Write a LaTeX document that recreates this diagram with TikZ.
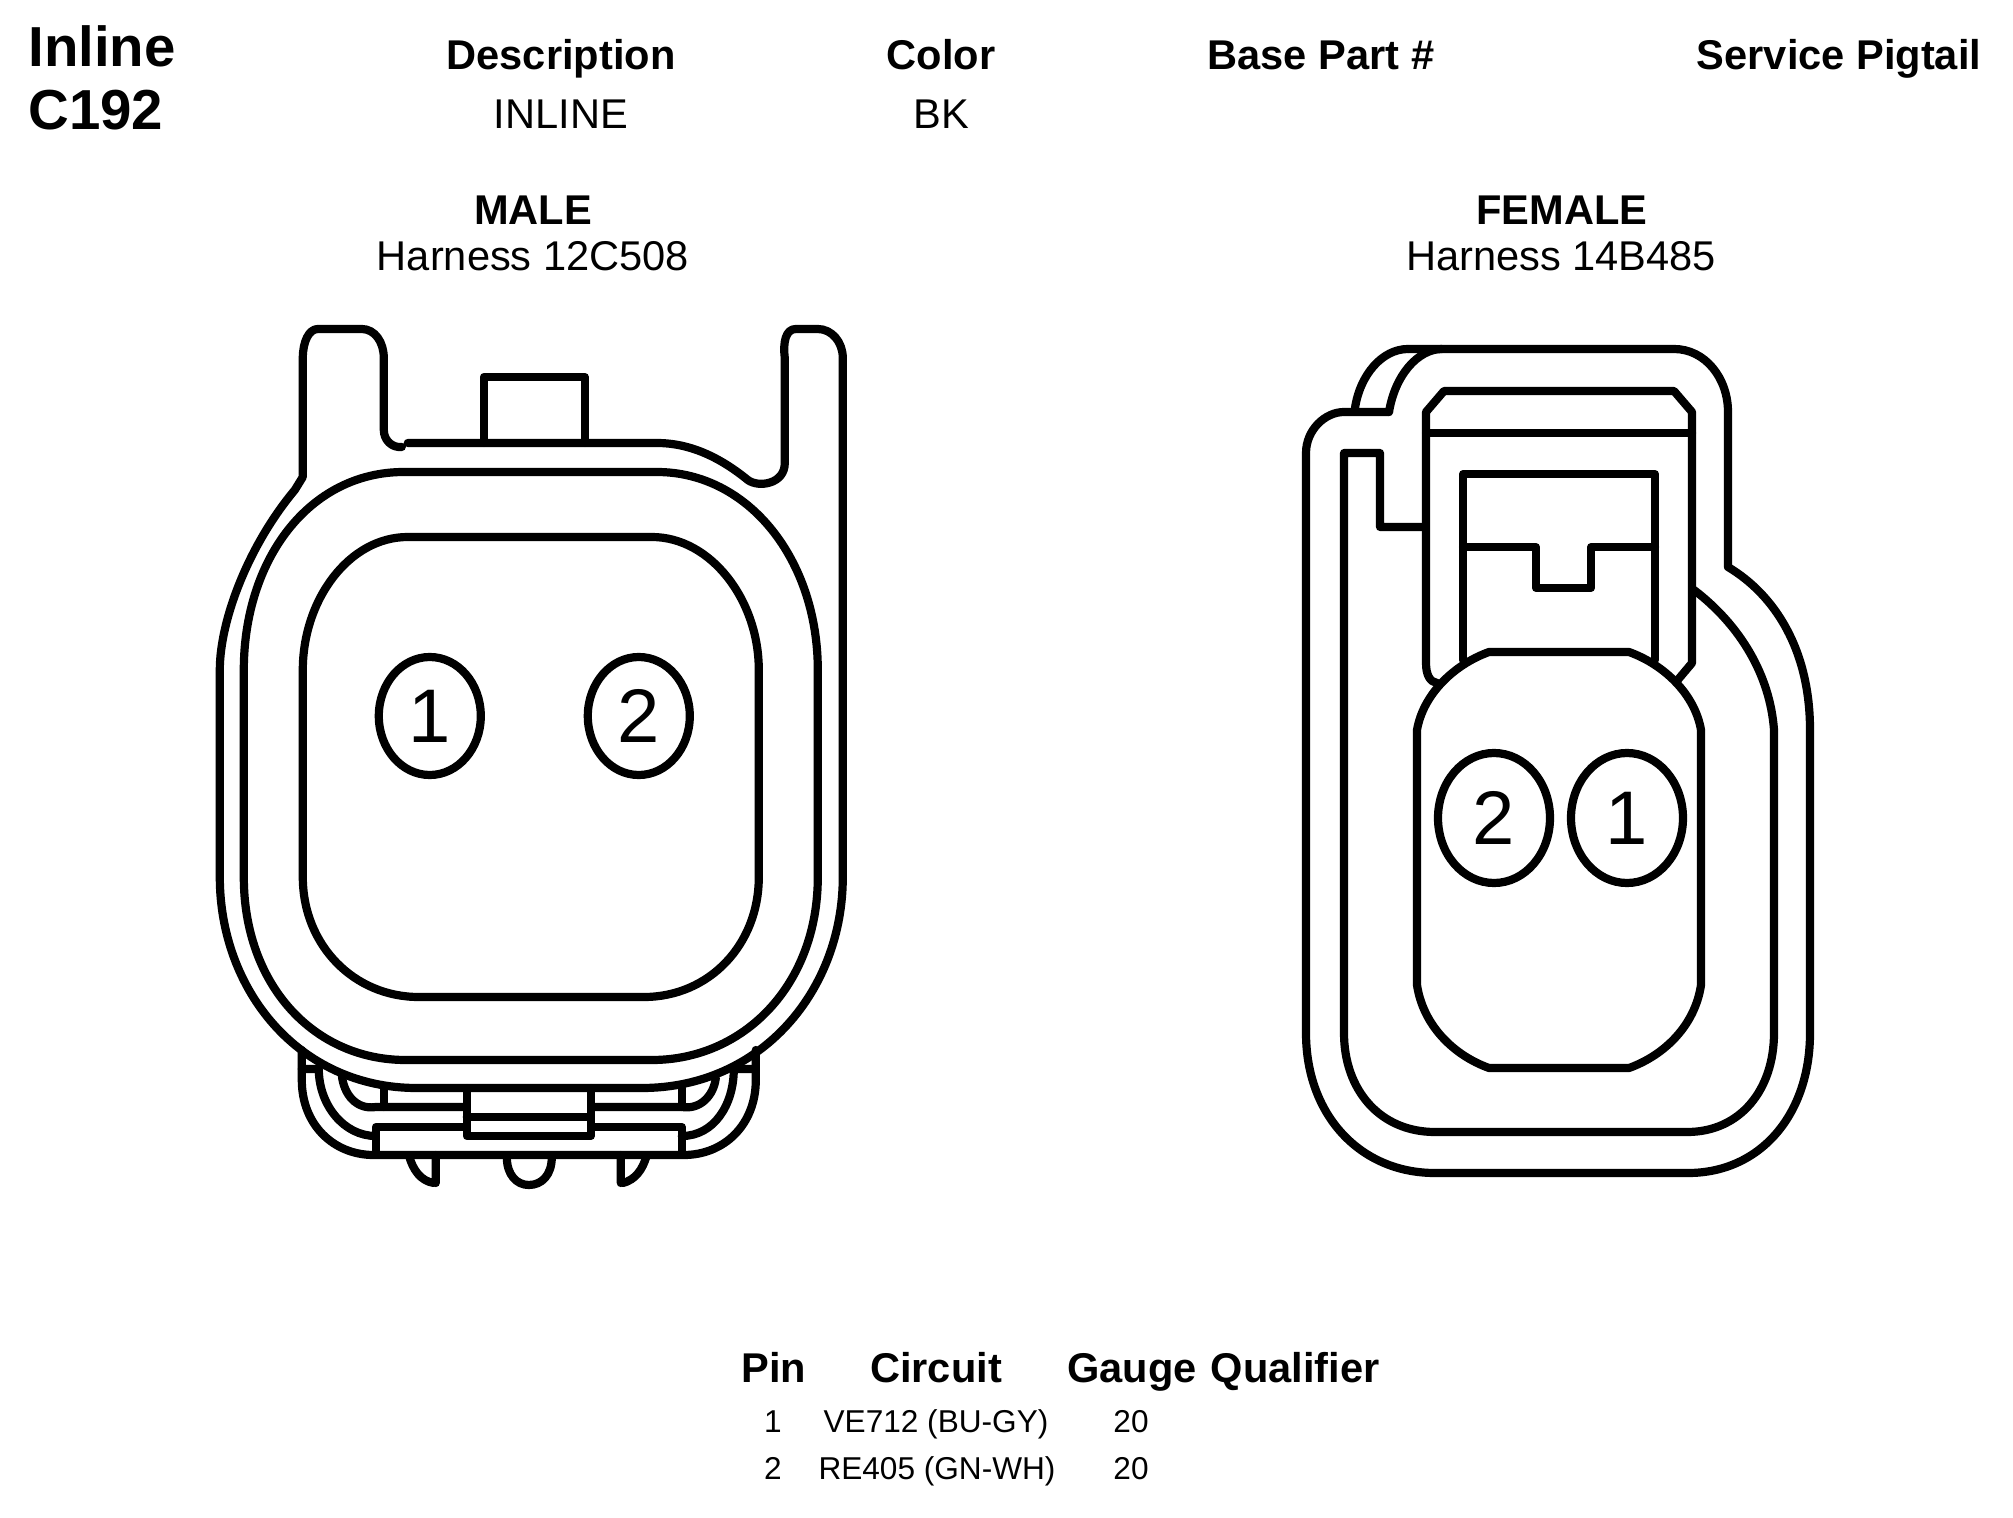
\documentclass[tikz,border=0pt]{standalone}
\usepackage{fontspec}
\setmainfont{Liberation Sans}
\usetikzlibrary{shapes.geometric}
\def\dline{\draw[outline]}
\tikzset{
    outline/.style={line width=4.1pt,line join=round,line cap=round},
    headbig/.style={anchor=base west,inner sep=0pt,font=\fontsize{28.2}{28}\selectfont\bfseries},
    headlabel/.style={anchor=base,inner sep=0pt,font=\fontsize{20.8}{21}\selectfont\bfseries},
    textlabel/.style={anchor=base,inner sep=0pt,font=\fontsize{20.8}{21}\selectfont},
    rowlabel/.style={anchor=base,inner sep=0pt,font=\fontsize{15.8}{16}\selectfont},
    pinmark/.style={ellipse,draw,line width=4.1pt,inner sep=0pt,font=\fontsize{38}{38}\selectfont},
    malepin/.style={pinmark,minimum width=51pt,minimum height=59pt},
    femalepin/.style={pinmark,minimum width=56pt,minimum height=65pt}
}
\begin{document}
\begin{tikzpicture}[x=0.5pt,y=-0.5pt]
    \useasboundingbox (0,0) rectangle (2013,1518);

    \node[headbig] (inline) at (28,67) {Inline};
    \node[headbig] (cnum) at (28,130) {C192};
    \node[headlabel] (desc) at (561,70) {Description};
    \node[headlabel] (color) at (941,70) {Color};
    \node[headlabel] (base) at (1321,70) {Base Part \#};
    \node[headlabel] (pigtail) at (1839,70) {Service Pigtail};
    \node[textlabel] (descval) at (561,129) {INLINE};
    \node[textlabel] (colorval) at (941,129) {BK};
    \node[headlabel] (male) at (533,225) {MALE};
    \node[textlabel] (maleh) at (533,271) {Harness 12C508};
    \node[headlabel] (female) at (1562,225) {FEMALE};
    \node[textlabel] (femaleh) at (1561,271) {Harness 14B485};

    \begin{scope}[xshift=-0.6pt]
    \dline (304,477) -- (304,358) .. controls (304,342) and (310,329) .. (319,329) -- (363,329)
        .. controls (376,329) and (385,342) .. (385,358) -- (385,430)
        .. controls (385,440) and (393,448) .. (403,447) (409,443) -- (658,443)
        .. controls (692,443) and (722,458) .. (749,480)
        .. controls (760,488) and (786,484) .. (786,463) -- (786,358)
        .. controls (784,342) and (787,329) .. (797,329) -- (819,329)
        .. controls (833,329) and (844,342) .. (844,358) -- (844,877)
        .. controls (844,990) and (763,1088) .. (643,1088) -- (418,1088)
        .. controls (300,1088) and (221,990) .. (221,877) -- (221,670)
        .. controls (221,620) and (250,545) .. (296,490) -- (304,477);
    \dline (485,443) -- (485,377) -- (586,377) -- (586,443);
    \dline (245,670) .. controls (245,560) and (310,472) .. (405,472) -- (658,472)
        .. controls (750,472) and (819,560) .. (819,670) -- (819,877)
        .. controls (819,985) and (745,1060) .. (653,1060) -- (407,1060)
        .. controls (315,1060) and (245,985) .. (245,877) -- cycle;
    \dline (304,670) .. controls (304,600) and (350,537) .. (409,537) -- (653,537)
        .. controls (712,537) and (760,600) .. (760,670) -- (760,877)
        .. controls (760,945) and (710,997) .. (645,997) -- (420,997)
        .. controls (355,997) and (304,945) .. (304,877) -- cycle;
    \node[malepin] (malea) at (431,716) {1};
    \node[malepin] (maleb) at (640,716) {2};

    \dline (303,1050) -- (303,1080) .. controls (303,1125) and (335,1155) .. (375,1155) -- (685,1155)
        .. controls (725,1155) and (757,1125) .. (757,1080) -- (757,1050);
    \dline (303,1069) -- (320,1069) .. controls (320,1105) and (345,1136) .. (377,1136);
    \dline (757,1069) -- (735,1069) .. controls (735,1105) and (715,1136) .. (683,1136);
    \dline (343,1075) .. controls (345,1095) and (358,1110) .. (377,1107) -- (465,1107);
    \dline (717,1078) .. controls (715,1095) and (702,1110) .. (683,1107) -- (595,1107);
    \dline (385,1088) -- (385,1107);
    \dline (683,1088) -- (683,1107);
    \dline (377,1154) -- (377,1127) -- (465,1127);
    \dline (683,1154) -- (683,1127) -- (595,1127);
    \dline (468,1088) -- (468,1136) -- (592,1136) -- (592,1088);
    \dline (468,1117) -- (592,1117);
    \dline (410,1155) .. controls (414,1170) and (422,1181) .. (435,1183) (437,1183) -- (437,1155);
    \dline (508,1157) .. controls (508,1175) and (518,1185) .. (530,1185) .. controls (543,1185) and (553,1175) .. (553,1157);
    \dline (622,1183) -- (622,1155) (624,1183) .. controls (636,1180) and (644,1170) .. (648,1155);
    \end{scope}

    \dline (1408,349) -- (1674,349) .. controls (1705,349) and (1728,378) .. (1728,412) -- (1728,567)
        .. controls (1775,595) and (1810,650) .. (1810,730) -- (1810,1033)
        .. controls (1810,1115) and (1760,1173) .. (1688,1173) -- (1435,1173)
        .. controls (1360,1173) and (1306,1115) .. (1306,1033) -- (1306,453)
        .. controls (1306,430) and (1325,412) .. (1344,412) -- (1389,412);
    \dline (1389,412) .. controls (1395,375) and (1418,349) .. (1442,349);
    \dline (1355,408) .. controls (1360,375) and (1382,349) .. (1408,349);
    \dline (1423,527) -- (1380,527) -- (1380,453) -- (1344,453) -- (1344,1033)
        .. controls (1344,1090) and (1380,1132) .. (1435,1132) -- (1687,1132)
        .. controls (1740,1132) and (1774,1090) .. (1774,1033) -- (1774,730)
        .. controls (1770,675) and (1740,625) .. (1694,590);
    \dline (1437,683) .. controls (1430,682) and (1426,675) .. (1426,663) -- (1426,412) -- (1444,391)
        -- (1674,391) -- (1692,412) -- (1692,663) -- (1676,682);
    \dline (1426,433) -- (1692,433);
    \dline (1463,660) -- (1463,474) -- (1655,474) -- (1655,660);
    \dline (1463,547) -- (1536,547) -- (1536,588) -- (1591,588) -- (1591,547) -- (1655,547);
    \dline (1489,652) -- (1629,652) .. controls (1665,665) and (1695,695) .. (1701,730) -- (1701,985)
        .. controls (1695,1025) and (1665,1055) .. (1629,1068) -- (1489,1068)
        .. controls (1453,1055) and (1423,1025) .. (1417,985) -- (1417,730)
        .. controls (1423,695) and (1453,665) .. (1489,652) -- cycle;
    \node[femalepin] (femaleb) at (1494,818) {2};
    \node[femalepin] (femalea) at (1627,818) {1};

    \node[headlabel] (pin) at (774,1382) {Pin};
    \node[headlabel] (circuit) at (936,1382) {Circuit};
    \node[headlabel] (gauge) at (1132,1382) {Gauge};
    \node[headlabel] (qual) at (1295,1382) {Qualifier};
    \node[rowlabel] (rowa) at (773,1432) {1};
    \node[rowlabel] (rowacirc) at (936,1432) {VE712 (BU-GY)};
    \node[rowlabel] (rowagauge) at (1131,1432) {20};
    \node[rowlabel] (rowb) at (773,1479) {2};
    \node[rowlabel] (rowbcirc) at (937,1479) {RE405 (GN-WH)};
    \node[rowlabel] (rowbgauge) at (1131,1479) {20};
\end{tikzpicture}
\end{document}
